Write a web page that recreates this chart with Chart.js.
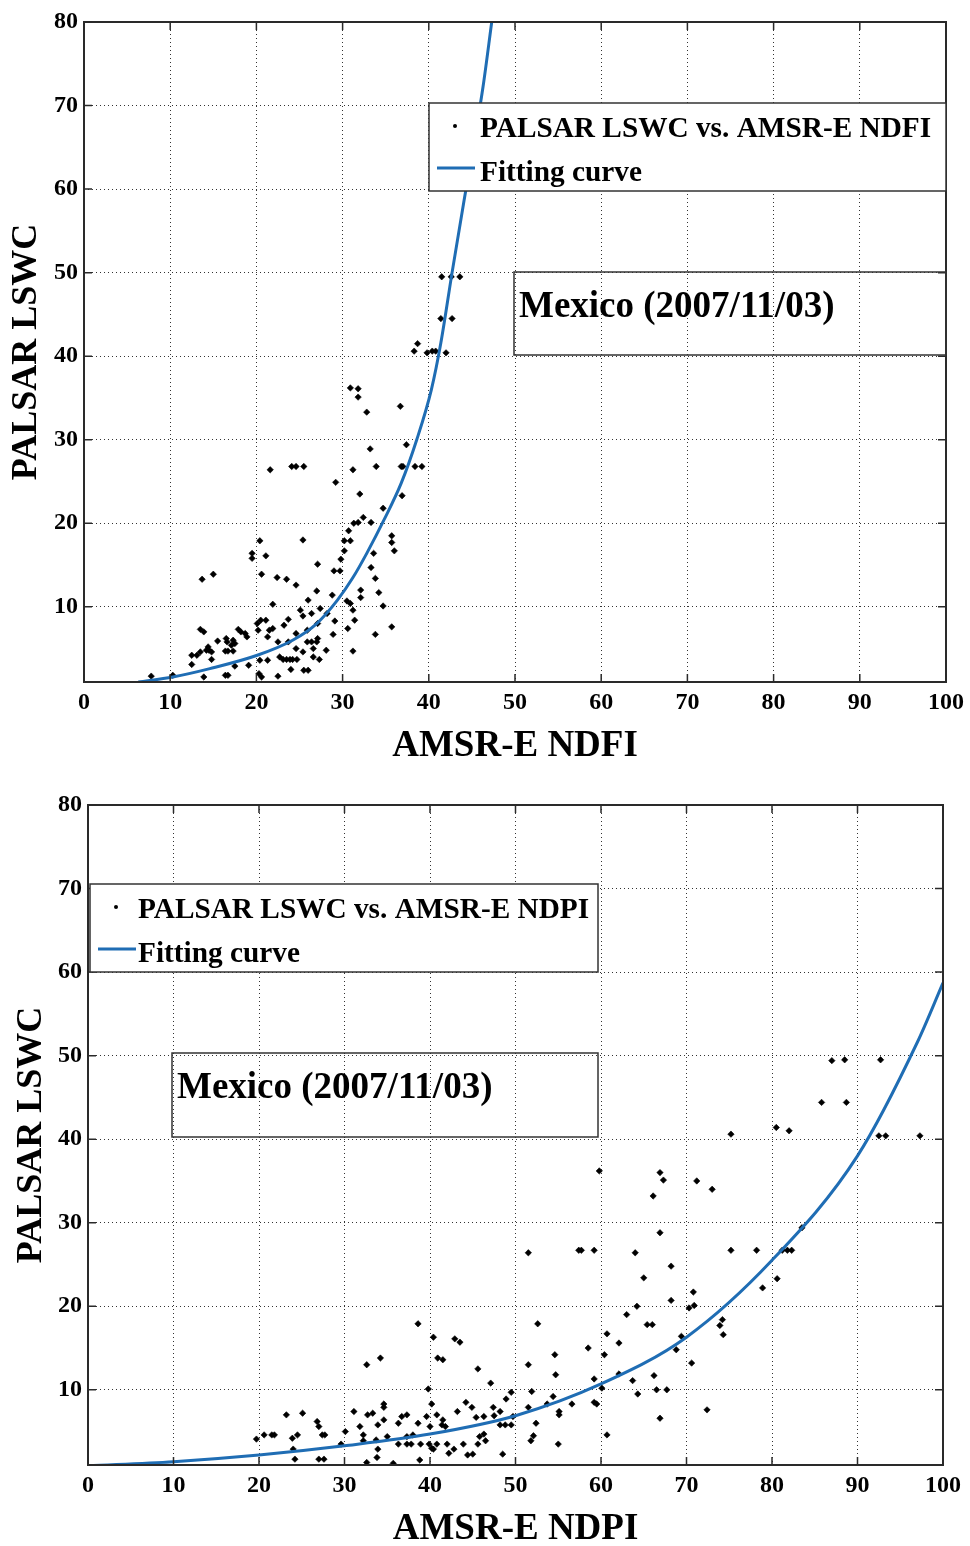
<!DOCTYPE html>
<html><head><meta charset="utf-8">
<script src="https://cdn.jsdelivr.net/npm/chart.js@4.4.0/dist/chart.umd.min.js"></script>
<style>
html,body{margin:0;padding:0;background:#fff;}
#wrap{position:relative;width:970px;height:1546px;overflow:hidden;background:#fff;}
canvas{position:absolute;left:0;}
</style></head><body>
<div id="wrap">
<canvas id="c1" width="970" height="773" style="top:0px"></canvas>
<canvas id="c2" width="970" height="773" style="top:773px"></canvas>
</div>
<script>
// ---------- tick labels ----------
const xTicks = [0,10,20,30,40,50,60,70,80,90,100];
const yTicks = [10,20,30,40,50,60,70,80];

// ---------- top panel: PALSAR LSWC vs AMSR-E NDFI ----------
const ndfi = [38.3,38.7,39.8,40.4,40.8,42.0,41.5,42.6,43.6,41.4,42.7,30.9,31.8,31.8,32.8,36.7,33.2,37.4,21.6,24.1,24.6,25.5,31.2,33.9,36.8,37.0,38.4,39.2,29.2,32.0,36.9,34.7,32.4,31.3,31.8,33.3,30.7,30.2,30.9,30.2,35.7,35.7,36.0,20.4,19.5,19.5,21.1,25.4,33.6,29.8,27.1,29.0,29.7,33.3,33.8,15.0,13.7,20.6,22.4,23.5,34.2,24.6,27.0,28.8,26.0,21.9,30.5,30.9,31.2,32.1,32.1,34.7,31.4,30.6,33.8,35.7,31.2,25.1,27.4,26.4,25.4,29.1,28.9,28.2,20.1,20.5,21.1,20.2,21.5,21.9,21.3,23.2,23.7,24.6,25.9,25.9,26.4,27.0,27.1,27.1,22.5,23.7,24.6,26.6,25.4,28.1,22.7,23.1,23.5,23.9,24.2,24.7,24.0,22.5,25.5,26.0,26.6,27.3,20.4,21.3,20.6,20.3,19.1,13.5,13.9,17.9,18.2,18.7,18.9,16.6,17.1,17.3,15.5,16.5,17.5,12.5,13.1,13.5,14.2,14.5,14.8,14.4,12.5,14.8,16.4,16.7,17.3,16.4,16.7,13.9,10.3,7.8,17.5];
const lswcNdfi = [40.6,41.5,40.4,40.6,40.6,40.4,49.5,49.5,49.5,44.5,44.5,36.2,36.1,35.1,33.3,34.0,28.9,29.4,26.4,26.8,26.8,26.8,26.4,26.8,26.8,26.8,26.8,26.8,24.9,23.5,23.3,21.8,20.7,20.0,20.1,20.1,19.1,17.9,17.9,16.7,18.5,17.7,16.7,17.9,16.4,15.8,16.1,18.0,16.4,15.7,15.1,14.3,14.3,14.7,13.4,13.9,13.3,13.9,13.5,13.3,11.7,12.6,11.9,11.4,10.8,10.3,10.7,10.4,9.6,12.0,11.1,10.1,8.4,7.4,6.7,7.6,4.7,9.6,9.8,9.2,8.9,8.3,6.7,9.2,8.0,8.4,8.4,7.2,7.2,7.4,6.4,7.8,8.5,6.8,7.2,5.8,5.8,5.8,6.2,8.0,5.8,5.8,5.0,5.0,4.6,4.8,4.0,3.7,3.7,3.7,3.7,3.7,2.5,1.7,2.4,2.4,4.0,3.7,3.6,3.6,1.6,2.0,3.0,7.3,7.0,7.3,7.0,6.8,6.4,5.8,5.4,6.0,5.9,6.2,5.6,4.2,4.2,4.6,4.8,4.8,4.6,5.2,3.1,3.7,4.7,4.7,4.7,1.8,1.8,1.6,1.8,1.7,2.9];
const fitNdfiX = [6.3,10.3,14.6,20.1,24.2,27.0,29.4,31.2,32.8,34.8,36.8,38.6,40.3,41.4,42.7,44.1,45.3,46.3,47.3];
const fitNdfiY = [1.0,1.6,2.6,4.2,6.0,8.0,10.8,13.5,16.4,20.4,24.8,30.0,36.0,41.6,50.0,58.7,65.9,72.3,80.0];

// ---------- bottom panel: PALSAR LSWC vs AMSR-E NDPI ----------
const ndpi = [87.0,88.5,92.7,85.8,88.7,80.5,82.0,75.2,92.5,93.3,97.3,59.8,66.9,67.3,71.2,73.0,66.1,66.9,51.5,57.4,57.7,59.2,64.0,75.2,78.2,81.2,81.8,82.3,83.5,68.2,65.0,80.6,78.9,68.2,64.2,70.3,70.9,70.8,63.0,52.6,65.4,66.0,60.7,74.2,73.9,74.3,69.4,62.1,58.5,54.6,60.4,51.5,54.7,59.2,60.1,68.8,70.6,62.1,63.7,66.2,64.3,66.5,67.7,66.9,72.4,59.2,59.5,56.6,54.4,55.1,55.1,53.7,51.5,49.7,51.9,49.5,48.9,52.4,52.1,51.8,55.0,60.7,48.5,48.2,48.8,49.5,48.2,38.6,40.4,42.9,43.5,40.9,41.5,32.6,34.2,45.6,47.1,39.8,44.2,44.9,40.2,43.2,47.4,45.4,46.3,47.5,23.2,25.1,26.8,27.0,27.4,27.7,23.9,24.5,24.0,24.2,27.0,27.6,19.7,20.6,21.5,21.8,30.1,29.6,31.1,31.8,32.7,33.3,34.6,34.6,34.6,33.9,32.2,32.2,33.7,33.9,35.0,33.8,32.6,35.7,36.3,36.7,37.3,36.3,37.3,37.3,37.8,38.0,38.6,38.9,38.8,39.6,40.0,39.9,40.2,40.4,40.8,40.8,41.4,41.8,41.5,42.0,42.2,42.8,43.9,44.4,45.0,45.6,45.8,46.3,46.5];
const lswcNdpi = [49.4,49.5,49.5,44.4,44.4,41.4,41.0,40.6,40.4,40.4,40.4,36.2,36.0,35.1,35.0,34.0,33.2,28.8,26.4,26.7,26.7,26.7,26.4,26.7,26.7,26.7,26.7,26.7,29.4,24.8,23.4,23.3,22.2,20.7,20.0,19.8,20.1,21.7,19.0,17.9,17.8,17.8,16.7,18.4,17.7,16.6,16.4,15.6,15.0,14.2,14.2,13.0,11.8,11.3,10.2,14.8,13.2,11.9,11.1,11.7,9.5,10.0,10.0,6.6,7.6,8.5,8.3,8.3,9.2,7.4,7.0,8.3,7.9,6.8,9.8,9.7,8.9,6.0,4.5,3.9,3.5,4.6,2.3,5.8,5.8,5.8,7.4,17.9,16.3,16.1,15.7,13.8,13.6,13.0,13.8,12.5,10.8,10.1,8.5,7.9,8.3,7.4,7.9,6.7,6.8,6.9,7.0,7.2,6.2,5.6,4.6,4.6,4.2,4.6,2.9,1.7,1.7,1.7,4.1,4.6,4.6,4.6,5.0,3.5,7.4,5.6,7.0,7.2,8.3,7.9,6.4,5.8,4.6,3.9,4.0,2.9,4.4,1.9,1.3,1.2,6.0,6.8,7.0,3.5,4.4,3.5,3.5,4.6,6.0,3.5,1.6,6.8,5.6,3.5,3.0,2.9,3.5,7.0,5.8,5.6,6.4,3.5,2.4,2.9,3.5,2.2,2.3,3.5,4.4,4.7,3.9];
const fitNdpiX = [0,10,20,30,40,50,60,70,80,90,97,100];
const fitNdpiY = [0.9,1.4,2.2,3.3,4.7,6.9,10.7,16.3,25.5,38.0,51.6,58.7];

// ---------- texts ----------
const yTitle = 'PALSAR LSWC';
const noteText = 'Mexico (2007/11/03)';
const fitLabel = 'Fitting curve';

const SERIF = '"Liberation Serif","Times New Roman",Times,serif';
const BLUE = '#1f6db4';

const decor = {
  id: 'decor',
  afterDatasetsDraw(chart, args, o) {
    const ctx = chart.ctx;
    const {left, right, top, bottom} = chart.chartArea;
    const xs = chart.scales.x, ys = chart.scales.y;
    ctx.save();
    // frame
    ctx.strokeStyle = '#2a2a2a';
    ctx.lineWidth = 2;
    ctx.strokeRect(left, top, right - left, bottom - top);
    // inward ticks on all sides
    ctx.lineWidth = 1.5;
    ctx.beginPath();
    xTicks.forEach(v => {
      const p = xs.getPixelForValue(v);
      ctx.moveTo(p, bottom); ctx.lineTo(p, bottom - 8);
      ctx.moveTo(p, top); ctx.lineTo(p, top + 8);
    });
    yTicks.forEach(v => {
      const p = ys.getPixelForValue(v);
      ctx.moveTo(left, p); ctx.lineTo(left + 8, p);
      ctx.moveTo(right, p); ctx.lineTo(right - 8, p);
    });
    ctx.stroke();

    // legend box (opaque)
    const L = o.legend;
    ctx.fillStyle = '#fff';
    ctx.fillRect(L.x, L.y, L.w, L.h);
    ctx.strokeStyle = '#333';
    ctx.lineWidth = 1.5;
    ctx.strokeRect(L.x, L.y, L.w, L.h);
    const ds = chart.data.datasets;
    // marker sample
    ctx.fillStyle = '#000';
    ctx.beginPath();
    ctx.arc(L.x + 26, L.y + 23, 2, 0, Math.PI * 2);
    ctx.fill();
    // line sample
    ctx.strokeStyle = BLUE;
    ctx.lineWidth = 3;
    ctx.beginPath();
    ctx.moveTo(L.x + 8, L.y + 65); ctx.lineTo(L.x + 46, L.y + 65);
    ctx.stroke();
    ctx.fillStyle = '#000';
    ctx.font = 'bold 29.3px ' + SERIF;
    ctx.textAlign = 'left';
    ctx.textBaseline = 'alphabetic';
    ctx.fillText(ds[1].label, L.x + L.tx, L.y + 34);
    ctx.fillText(ds[0].label, L.x + L.tx, L.y + 78);

    // annotation box (transparent)
    const N = o.note;
    ctx.strokeStyle = '#333';
    ctx.lineWidth = 1.5;
    ctx.strokeRect(N.x, N.y, N.w, N.h);
    ctx.font = 'bold 37px ' + SERIF;
    ctx.fillText(noteText, N.x + 5, N.y + 45);
    ctx.restore();
  }
};

function makeChart(canvasId, cfg) {
  const tickFont = {family: SERIF, size: 24, weight: 'bold'};
  const pts = cfg.xs.map((x, i) => ({x: x, y: cfg.ys[i]}));
  const fit = cfg.fx.map((x, i) => ({x: x, y: cfg.fy[i]}));
  return new Chart(document.getElementById(canvasId), {
    type: 'scatter',
    data: {
      datasets: [
        {type: 'line', label: fitLabel, data: fit, borderColor: BLUE, borderWidth: 3,
         pointRadius: 0, cubicInterpolationMode: 'monotone', fill: false},
        {label: cfg.label, data: pts, pointStyle: 'rectRot', pointRadius: 3.2,
         backgroundColor: '#000', borderColor: '#000', borderWidth: 0.6}
      ]
    },
    options: {
      responsive: false,
      animation: false,
      events: [],
      layout: {padding: {left: 0, top: cfg.plotTop, right: 970 - cfg.plotRight, bottom: 0}},
      plugins: {legend: {display: false}, tooltip: {enabled: false}, decor: {legend: cfg.legendBox, note: cfg.noteBox}},
      scales: {
        x: {
          type: 'linear', min: 0, max: 100,
          afterBuildTicks: s => { s.ticks = xTicks.map(v => ({value: v})); },
          afterFit: s => { s.height = 773 - cfg.plotBottom; },
          ticks: {font: tickFont, color: '#000', padding: 6, maxRotation: 0, autoSkip: false},
          grid: {color: '#333', lineWidth: 1, drawTicks: false},
          border: {display: false, dash: [1, 3]},
          title: {display: true, text: cfg.xTitle, color: '#000',
                  font: {family: SERIF, size: 37, weight: 'bold', lineHeight: 0.9},
                  padding: {top: 0, bottom: cfg.xTitlePad}}
        },
        y: {
          type: 'linear', min: 1, max: 80,
          afterBuildTicks: s => { s.ticks = yTicks.map(v => ({value: v})); },
          afterFit: s => { s.width = cfg.plotLeft; },
          ticks: {font: tickFont, color: '#000', padding: 6},
          grid: {color: '#333', lineWidth: 1, drawTicks: false},
          border: {display: false, dash: [1, 3]},
          title: {display: true, text: yTitle, color: '#000',
                  font: {family: SERIF, size: 36, weight: 'bold', lineHeight: 0.9},
                  padding: {top: cfg.yTitlePad, bottom: 0}}
        }
      }
    },
    plugins: [decor]
  });
}

makeChart('c1', {
  xs: ndfi, ys: lswcNdfi, fx: fitNdfiX, fy: fitNdfiY,
  label: 'PALSAR LSWC vs. AMSR-E NDFI', xTitle: 'AMSR-E NDFI',
  plotLeft: 84, plotRight: 946, plotTop: 22, plotBottom: 682,
  xTitlePad: 10, yTitlePad: 11,
  legendBox: {x: 429, y: 103, w: 517, h: 88, tx: 51},
  noteBox: {x: 514, y: 272, w: 432, h: 83}
});

makeChart('c2', {
  xs: ndpi, ys: lswcNdpi, fx: fitNdpiX, fy: fitNdpiY,
  label: 'PALSAR LSWC vs. AMSR-E NDPI', xTitle: 'AMSR-E NDPI',
  plotLeft: 88, plotRight: 943, plotTop: 32, plotBottom: 692,
  xTitlePad: 0, yTitlePad: 16,
  legendBox: {x: 90, y: 111, w: 508, h: 88, tx: 48},
  noteBox: {x: 172, y: 280, w: 426, h: 84}
});
</script>
</body></html>
